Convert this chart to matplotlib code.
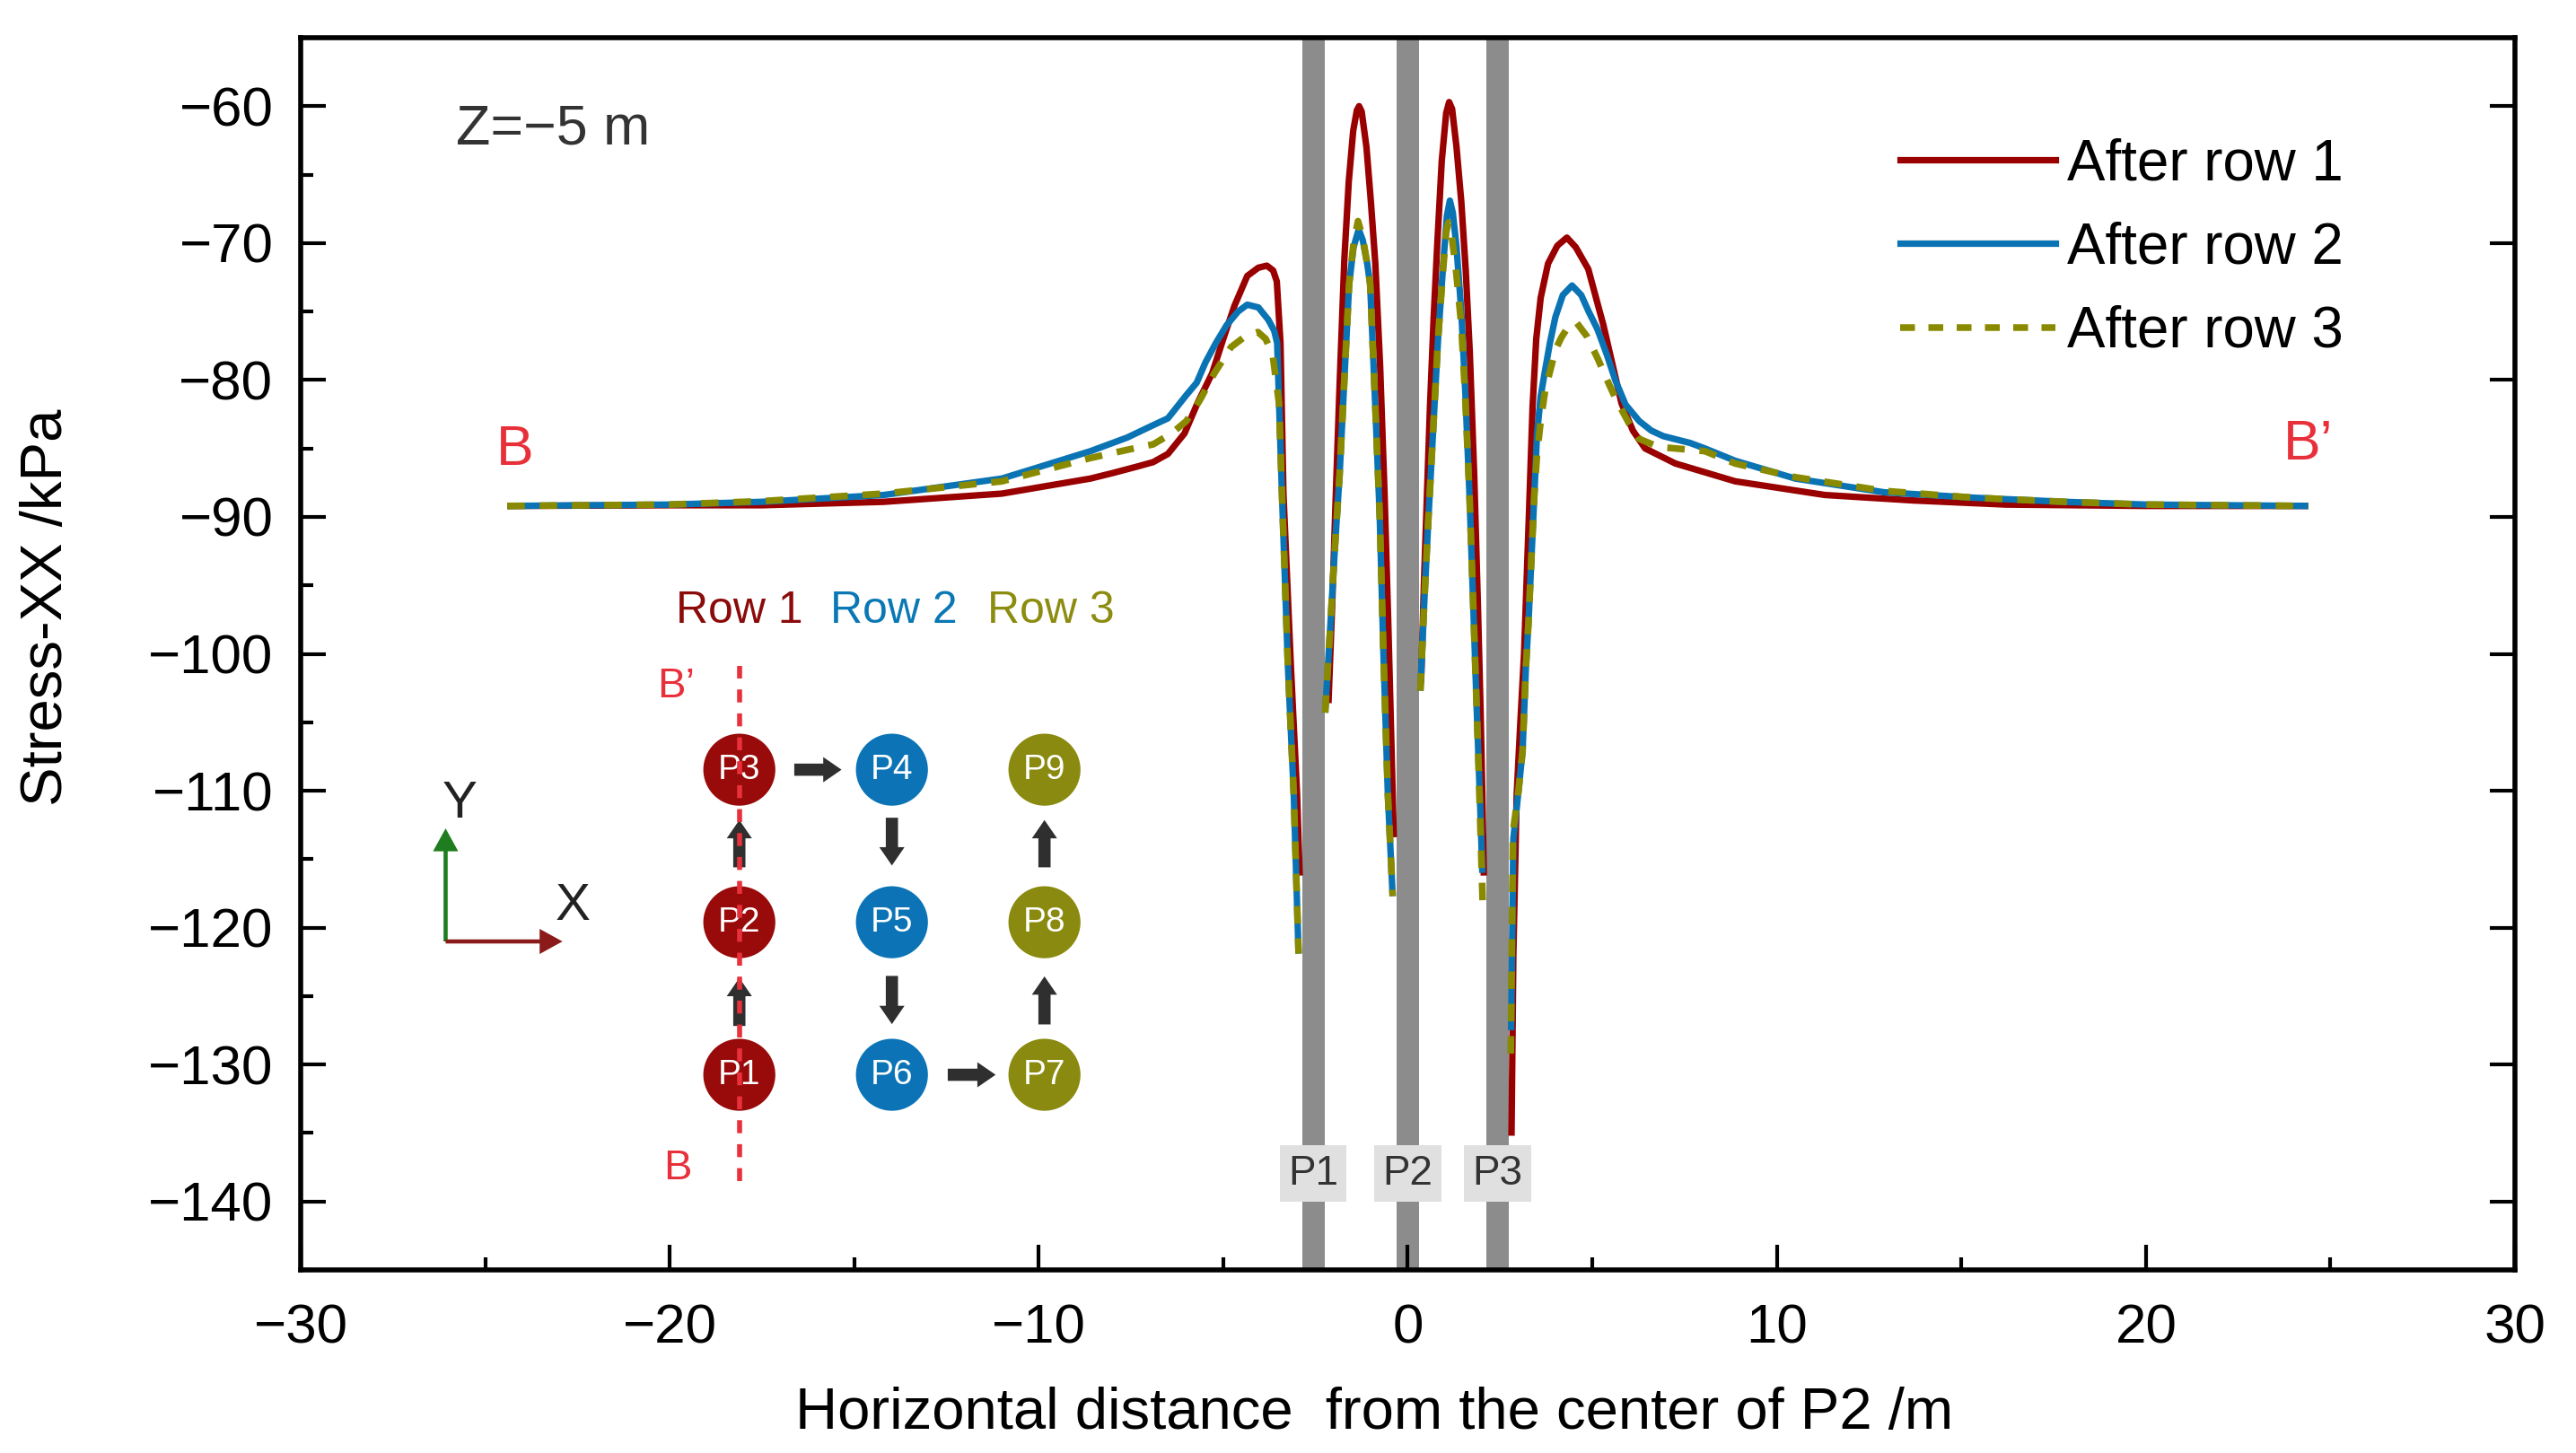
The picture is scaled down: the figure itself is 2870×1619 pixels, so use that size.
import numpy as np
import matplotlib
matplotlib.use('Agg')
import matplotlib.pyplot as plt
from matplotlib.patches import Circle, FancyArrow
from matplotlib.lines import Line2D

plt.rcParams['font.family'] = ['Liberation Sans', 'DejaVu Sans']
plt.rcParams['axes.unicode_minus'] = True

nan = np.nan

# ---------------- data ----------------
row1_x = [-24.4, -20, -17.5, -14.2, -11, -8.6, -8.0, -7.3, -6.9, -6.5, -6.05, -5.7, -5.3, -5.0, -4.7, -4.35,
          -4.05, -3.82, -3.65, -3.55, -3.45, -3.37, -3.17, -3.0, -2.93,
          nan,
          -2.15, -2.05, -1.95, -1.85, -1.72, -1.6, -1.48, -1.38, -1.32, -1.25, -1.12, -1.0, -0.88, -0.75,
          -0.63, -0.53, -0.45, -0.38,
          nan,
          0.36, 0.44, 0.52, 0.6, 0.7, 0.8, 0.92, 1.04, 1.12, 1.2, 1.32, 1.45, 1.57, 1.68, 1.8, 1.9, 1.97,
          2.02, 2.06,
          nan,
          2.81, 2.86, 2.95, 3.05, 3.15, 3.28, 3.38, 3.48, 3.6, 3.8, 4.05, 4.31, 4.55, 4.89, 5.3, 5.79, 6.1,
          6.43, 7.25, 8.87, 11.3, 13.7, 16.2, 20, 24.4]
row1_y = [-89.2, -89.15, -89.15, -88.9, -88.3, -87.2, -86.8, -86.3, -86.0, -85.4, -83.9, -81.7, -79.5, -77.0,
          -74.6, -72.4, -71.8, -71.65, -72.0, -72.8, -77.3, -88.3, -100.8, -110.3, -116.2,
          nan,
          -103.6, -96.5, -88.3, -80.5, -71.2, -65.5, -61.8, -60.3, -60.0, -60.4, -63.0, -67.0, -71.5, -79.0,
          -88.3, -97.7, -106.0, -113.4,
          nan,
          -102.1, -94.6, -88.3, -82.0, -75.5, -70.0, -64.0, -60.5, -59.7, -60.2, -63.0, -67.0, -72.0, -78.0,
          -87.0, -96.5, -104.0, -110.3, -116.2,
          nan,
          -135.2, -122.0, -110.3, -105.0, -100.0, -90.0, -82.0, -77.0, -74.0, -71.5, -70.2, -69.6, -70.3,
          -71.9, -76.0, -81.7, -83.7, -85.0, -86.1, -87.4, -88.4, -88.8, -89.1, -89.2, -89.2]

row2_x = [-24.4, -20, -17.5, -14.2, -11, -8.6, -7.6, -6.9, -6.5, -6.0, -5.72, -5.48, -5.2, -4.91, -4.6,
          -4.35, -4.05, -3.78, -3.62, -3.54, -3.41, -3.25, -3.09, -2.96,
          nan,
          -2.24, -2.1, -1.97, -1.85, -1.72, -1.59, -1.47, -1.33, -1.22, -1.1, -1.02, -0.88, -0.76, -0.66,
          -0.54, -0.41,
          nan,
          0.34, 0.45, 0.56, 0.68, 0.82, 0.96, 1.06, 1.14, 1.22, 1.32, 1.45, 1.56, 1.67, 1.78, 1.88, 1.96, 2.02,
          nan,
          2.80, 2.86, 3.0, 3.11, 3.2, 3.27, 3.35, 3.43, 3.5, 3.6, 3.7, 3.85, 4.0, 4.2, 4.45, 4.7, 4.9, 5.14,
          5.4, 5.62, 5.9, 6.27, 6.6, 6.92, 7.65, 8.05, 8.87, 10.5, 12.9, 15.35, 17.8, 20, 24.4]
row2_y = [-89.2, -89.1, -88.9, -88.4, -87.2, -85.2, -84.2, -83.3, -82.8, -81.1, -80.2, -78.7, -77.3, -76.0,
          -75.0, -74.5, -74.7, -75.6, -76.4, -77.3, -88.3, -100.8, -110.3, -121.9,
          nan,
          -104.3, -98.0, -92.0, -87.0, -80.0, -73.0, -70.3, -69.0, -69.8, -71.5, -73.0, -82.0, -90.0, -100.0,
          -110.3, -117.7,
          nan,
          -102.7, -96.0, -90.0, -84.0, -77.0, -71.5, -68.0, -66.9, -67.8, -70.3, -75.0, -81.0, -88.3, -97.0,
          -105.0, -111.0, -116.0,
          nan,
          -127.5, -113.5, -110.0, -107.1, -101.0, -97.7, -93.0, -88.3, -84.0, -81.2, -79.6, -77.3, -75.4,
          -73.8, -73.1, -73.8, -75.0, -76.3, -78.2, -80.0, -81.8, -83.0, -83.7, -84.1, -84.6, -85.0, -85.9,
          -87.2, -88.2, -88.6, -88.9, -89.1, -89.2]

row3_x = [-24.4, -20, -17.5, -14.2, -11, -8.6, -7.6, -6.9, -6.4, -6.0, -5.64, -5.24, -4.79, -4.4, -4.06,
          -3.85, -3.66, -3.49, -3.41, -3.25, -3.09, -2.96,
          nan,
          -2.24, -2.1, -1.97, -1.85, -1.72, -1.59, -1.47, -1.35, -1.22, -1.1, -1.02, -0.88, -0.76, -0.66,
          -0.54, -0.41,
          nan,
          0.34, 0.45, 0.56, 0.68, 0.82, 0.96, 1.04, 1.1, 1.18, 1.3, 1.45, 1.56, 1.67, 1.78, 1.88, 1.96, 2.03,
          nan,
          2.79, 2.85, 3.0, 3.11, 3.2, 3.27, 3.35, 3.43, 3.5, 3.6, 3.72, 3.84, 4.0, 4.16, 4.35, 4.57, 4.85,
          5.14, 5.4, 5.62, 6.0, 6.27, 6.8, 7.25, 8.05, 8.87, 10.5, 12.9, 15.35, 17.8, 20, 24.4]
row3_y = [-89.2, -89.1, -88.85, -88.3, -87.4, -85.7, -85.1, -84.7, -83.9, -83.0, -81.5, -79.5, -77.6, -76.8,
          -76.5, -77.0, -78.2, -81.7, -88.3, -100.8, -110.3, -121.9,
          nan,
          -104.3, -98.0, -92.0, -87.0, -80.0, -73.0, -70.0, -68.4, -69.6, -71.5, -73.0, -82.0, -90.0, -100.0,
          -110.3, -117.7,
          nan,
          -102.7, -96.0, -90.0, -84.0, -77.0, -71.8, -69.2, -68.5, -69.3, -71.8, -76.0, -81.5, -88.3, -97.0,
          -105.0, -112.0, -118.3,
          nan,
          -129.2, -113.0, -110.0, -107.1, -101.0, -97.7, -93.0, -88.3, -85.5, -83.0, -80.8, -79.5, -77.8,
          -76.9, -76.1, -75.8, -76.8, -78.4, -80.0, -81.3, -83.2, -84.3, -84.9, -85.0, -85.2, -86.1, -87.1,
          -88.1, -88.6, -88.9, -89.1, -89.2]

series_labels = ['After row 1', 'After row 2', 'After row 3']

# piles along section B-B'
pile_x = [-2.56, 0.0, 2.43]
pile_labels = ['P1', 'P2', 'P3']
pile_width = 0.6
pile_label_y = -137.96

x_ticks = [-30, -20, -10, 0, 10, 20, 30]
y_ticks = [-140, -130, -120, -110, -100, -90, -80, -70, -60]

# layout schematic (grid units)
grid_ids = ['P1', 'P2', 'P3', 'P4', 'P5', 'P6', 'P7', 'P8', 'P9']
grid_col = [0, 0, 0, 1, 1, 1, 2, 2, 2]
grid_row = [0, 1, 2, 2, 1, 0, 0, 1, 2]
grid_group = [0, 0, 0, 1, 1, 1, 2, 2, 2]
row_names = ['Row 1', 'Row 2', 'Row 3']
row_name_x = [0.0, 1.011, 2.04]
# driving sequence arrows (x0, y0, x1, y1)
seq_arrows = [(0, 0.32, 0, 0.635), (0, 1.36, 0, 1.67), (0.36, 2, 0.67, 2), (1, 1.685, 1, 1.372),
              (1, 0.648, 1, 0.332), (1.366, 0, 1.68, 0), (2, 0.33, 2, 0.645), (2, 1.36, 2, 1.67)]

# ---------------- styles ----------------
c_red = '#990000'
c_blue = '#0a73b3'
c_olive = '#8a8a00'
c_lab = '#e8303a'

fig = plt.figure(figsize=(14.35, 8.095), dpi=200)
ax = fig.add_axes([0.11672, 0.12600, 0.85958, 0.84806])

for px in pile_x:
    ax.axvspan(px - pile_width / 2, px + pile_width / 2, color='#8c8c8c', lw=0, zorder=1)

l1, = ax.plot(row1_x, row1_y, color=c_red, lw=2.6, zorder=3, solid_capstyle='butt')
l2, = ax.plot(row2_x, row2_y, color=c_blue, lw=2.6, zorder=4, solid_capstyle='butt')
l3, = ax.plot(row3_x, row3_y, color=c_olive, lw=2.7, zorder=5, dashes=(2.6, 2.2))

for px, lab in zip(pile_x, pile_labels):
    ax.text(px, pile_label_y, lab, ha='center', va='center', fontsize=16.5, color='#333333', zorder=6,
            bbox=dict(boxstyle='square,pad=0.2', fc='#e0e0e0', ec='none'))

ax.set_xlim(-30, 30)
ax.set_ylim(-145, -55)
ax.set_xticks(x_ticks)
ax.set_yticks(y_ticks)
ax.set_xticks(np.arange(-25, 30, 10), minor=True)
ax.set_yticks(np.arange(-145, -55, 10), minor=True)
ax.tick_params(which='both', direction='in', width=1.5, top=False, right=True, labelsize=22.3)
ax.tick_params(axis='x', which='both', pad=13.5)
ax.tick_params(axis='y', which='both', pad=11)
ax.tick_params(which='major', length=10)
ax.tick_params(which='minor', length=5, right=False)
for sp in ax.spines.values():
    sp.set_linewidth(2.0)

ax.set_xlabel('Horizontal distance  from the center of P2 /m', fontsize=23.5)
ax.xaxis.set_label_coords(0.4848, -0.095)
ax.set_ylabel('Stress-XX /kPa', fontsize=23.5)
ax.yaxis.set_label_coords(-0.1024, 0.5375)

ax.text(-25.79, -62.76, 'Z=\u22125 m', fontsize=22.6, color='#333333', ha='left', va='baseline')
ax.text(-24.2, -85.1, 'B', fontsize=22.5, color=c_lab, ha='center', va='center')
ax.text(24.4, -84.7, 'B\u2019', fontsize=22.5, color=c_lab, ha='center', va='center')

handles = [Line2D([], [], color=c_red, lw=2.6),
           Line2D([], [], color=c_blue, lw=2.6),
           Line2D([], [], color=c_olive, lw=2.7, dashes=(2.2, 2.0))]
ax.legend(handles, series_labels, loc='upper left', bbox_to_anchor=(0.7225, 0.9187), frameon=False,
          fontsize=22.9, handlelength=2.72, handletextpad=0.2, labelspacing=0.52, borderpad=0,
          borderaxespad=0)

# ---------------- schematic inset ----------------
ins = fig.add_axes([0.14983, 0.17233, 0.30314, 0.44472])
ins.set_xlim(-2.316, 2.802)
ins.set_ylim(-0.838, 3.398)
ins.axis('off')
ins.patch.set_alpha(0)

group_colors = ['#990a0a', '#0c74b6', '#8a8a10']
row_text_colors = ['#8b0a0a', '#0a78b4', '#8c8c10']
for pid, cx, cy, g in zip(grid_ids, grid_col, grid_row, grid_group):
    ins.add_patch(Circle((cx, cy), 0.236, fc=group_colors[g], ec='none', zorder=2))
    ins.text(cx, cy, pid, ha='center', va='center', color='white', fontsize=14, zorder=3)

for (x0, y0, x1, y1) in seq_arrows:
    ins.add_patch(FancyArrow(x0, y0, x1 - x0, y1 - y0, width=0.08, head_width=0.165, head_length=0.12,
                             length_includes_head=True, color='#2f2f2f', lw=0, zorder=2))

ins.plot([0, 0], [-0.694, 2.68], color='#e8313b', lw=2.0, dashes=(2.6, 2.2), zorder=4)
ins.text(-0.416, 2.547, 'B\u2019', color=c_lab, fontsize=17, ha='center', va='center')
ins.text(-0.407, -0.613, 'B', color=c_lab, fontsize=17, ha='center', va='center')
for i, name in enumerate(row_names):
    ins.text(row_name_x[i], 3.04, name, color=row_text_colors[i], fontsize=18,
             ha='center', va='center')

# coordinate axes symbol
ins.add_patch(FancyArrow(-1.925, 0.874, 0, 0.741, width=0.027, head_width=0.165, head_length=0.15,
                         length_includes_head=True, color='#1e7d1e', lw=0))
ins.add_patch(FancyArrow(-1.925, 0.874, 0.766, 0, width=0.027, head_width=0.165, head_length=0.15,
                         length_includes_head=True, color='#8b1a1a', lw=0))
ins.text(-1.834, 1.777, 'Y', fontsize=21, color='#222222', ha='center', va='center')
ins.text(-1.092, 1.103, 'X', fontsize=21, color='#222222', ha='center', va='center')

fig.savefig('out.png', dpi=200)
